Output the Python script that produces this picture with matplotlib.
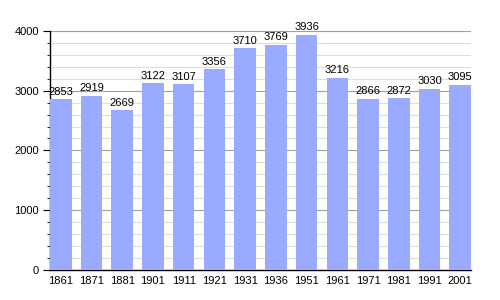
import matplotlib
matplotlib.use("Agg")
import matplotlib.pyplot as plt
from matplotlib.ticker import MultipleLocator

years = ["1861", "1871", "1881", "1901", "1911", "1921", "1931", "1936",
         "1951", "1961", "1971", "1981", "1991", "2001"]
population = [2853, 2919, 2669, 3122, 3107, 3356, 3710, 3769,
              3936, 3216, 2866, 2872, 3030, 3095]

plt.rcParams['font.family'] = ['Liberation Sans', 'DejaVu Sans']

fig = plt.figure(figsize=(5, 3), dpi=100)
ax = fig.add_axes([0.1, 0.1, 0.842, 0.797])

x = list(range(len(years)))
bars = ax.bar(x, population, width=0.7, color="#99aaff", zorder=3)
for xi, v in zip(x, population):
    ax.text(xi, v + 45, str(v), ha="center", va="bottom", fontsize=8, color="black", zorder=4)

ax.set_xlim(-0.35, len(years) - 1 + 0.35)
ax.set_ylim(0, 4000)
ax.set_xticks(x)
ax.set_xticklabels(years)
ax.yaxis.set_major_locator(MultipleLocator(1000))
ax.yaxis.set_minor_locator(MultipleLocator(200))
ax.grid(which="major", axis="y", color="#a0a0a0", linewidth=0.8, zorder=0)
ax.grid(which="minor", axis="y", color="#dedede", linewidth=0.8, zorder=0)
ax.set_axisbelow(True)

for s in ["top", "right"]:
    ax.spines[s].set_visible(False)
ax.spines["left"].set_linewidth(1)
ax.spines["bottom"].set_linewidth(1)
ax.tick_params(axis="x", length=0, labelsize=8, pad=4)
ax.tick_params(axis="y", which="major", length=5, labelsize=8, pad=3)
ax.tick_params(axis="y", which="minor", length=2.5)

fig.savefig("out.png", dpi=100)
